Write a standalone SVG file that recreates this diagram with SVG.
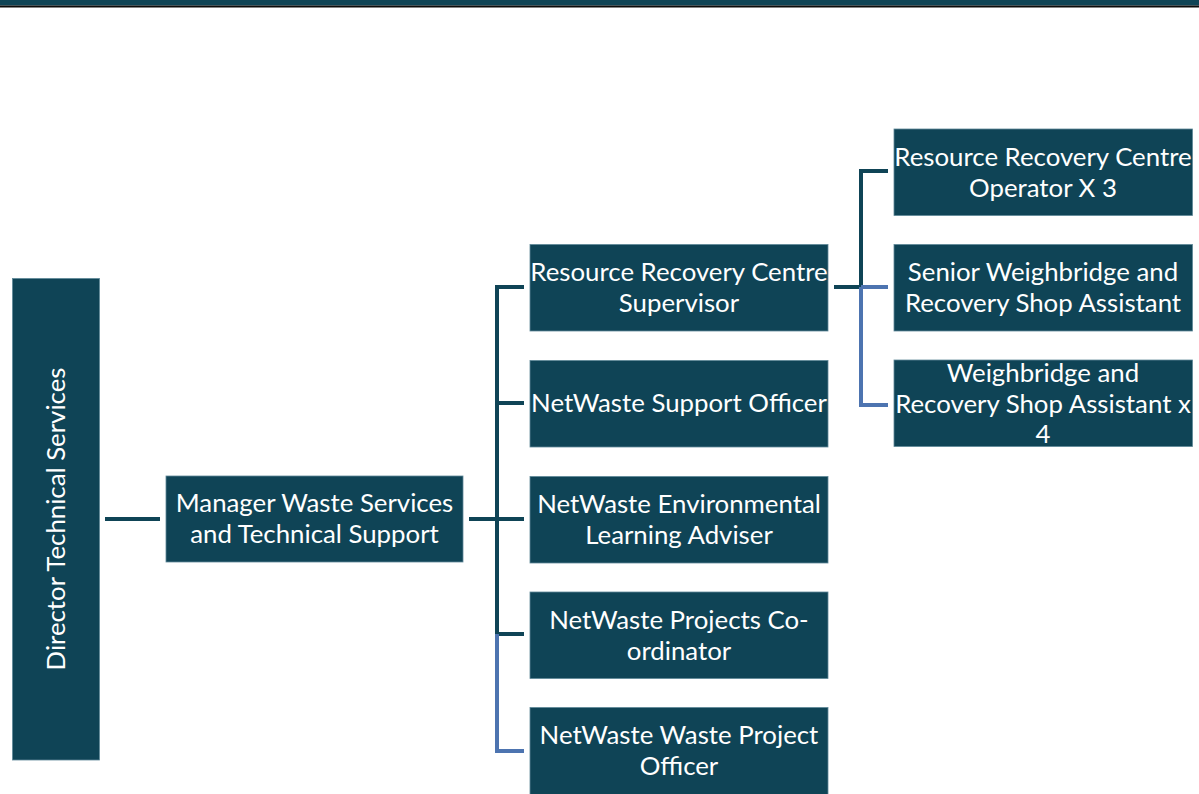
<svg xmlns="http://www.w3.org/2000/svg" width="1199" height="794" viewBox="0 0 1199 794">
  <style>
    .box { fill: #0f4456; stroke: #5f8898; stroke-width: 0.8; }
    .lbl { fill: #ffffff; font-family: Lato, "Liberation Sans", sans-serif; font-size: 25.8px; text-anchor: middle; dominant-baseline: central; }
    .dk { stroke: #0f4456; stroke-width: 4; fill: none; }
    .bl { stroke: #4d74b0; stroke-width: 4; fill: none; }
  </style>
  <rect width="1199" height="794" fill="#ffffff"/>
  <!-- header band -->
  <rect x="0" y="0" width="1199" height="5.5" fill="#0f4456"/>
  <rect x="0" y="5.5" width="1199" height="2" fill="#0b0b0b"/>

  <g id="connectors">
    <line class="dk" x1="105" y1="519" x2="160" y2="519"/>
    <line class="dk" x1="469" y1="519" x2="497" y2="519"/>
    <path class="dk" d="M524 287 H497 V634 H524"/>
    <line class="dk" x1="497" y1="403" x2="524" y2="403"/>
    <line class="dk" x1="497" y1="519" x2="524" y2="519"/>
    <path class="bl" d="M497 634 V751 H524"/>
    <line class="dk" x1="834" y1="287" x2="861" y2="287"/>
    <path class="dk" d="M861 287 V171 H888"/>
    <path class="bl" d="M861 287 H888 M861 287 V405 H888"/>
  </g>

  <g id="director">
    <rect class="box" x="12.5" y="278.5" width="87" height="481.5"/>
    <text class="lbl" transform="translate(55 519) rotate(-90)">Director Technical Services</text>
  </g>
  <g id="manager">
    <rect class="box" x="166" y="476" width="297" height="86"/>
    <text class="lbl" x="314.5" y="502">Manager Waste Services</text>
    <text class="lbl" x="314.5" y="533">and Technical Support</text>
  </g>
  <g id="rrc-supervisor">
    <rect class="box" x="530" y="244.5" width="298" height="86.5"/>
    <text class="lbl" x="679" y="270.5">Resource Recovery Centre</text>
    <text class="lbl" x="679" y="301.5">Supervisor</text>
  </g>
  <g id="support-officer">
    <rect class="box" x="530" y="360.5" width="298" height="86.5"/>
    <text class="lbl" x="679" y="402">NetWaste Support Officer</text>
  </g>
  <g id="learning-adviser">
    <rect class="box" x="530" y="476.5" width="298" height="86.5"/>
    <text class="lbl" x="679" y="502.5">NetWaste Environmental</text>
    <text class="lbl" x="679" y="533.5">Learning Adviser</text>
  </g>
  <g id="projects-coordinator">
    <rect class="box" x="530" y="592" width="298" height="86.5"/>
    <text class="lbl" x="679" y="618.5">NetWaste Projects Co-</text>
    <text class="lbl" x="679" y="649.5">ordinator</text>
  </g>
  <g id="project-officer">
    <rect class="box" x="530" y="707.5" width="298" height="90"/>
    <text class="lbl" x="679" y="734">NetWaste Waste Project</text>
    <text class="lbl" x="679" y="765">Officer</text>
  </g>
  <g id="rrc-operator">
    <rect class="box" x="894" y="129" width="298.5" height="86.5"/>
    <text class="lbl" x="1043" y="155.5">Resource Recovery Centre</text>
    <text class="lbl" x="1043" y="186.5">Operator X 3</text>
  </g>
  <g id="senior-weighbridge">
    <rect class="box" x="894" y="244.5" width="298.5" height="86.5"/>
    <text class="lbl" x="1043" y="270.5">Senior Weighbridge and</text>
    <text class="lbl" x="1043" y="301.5">Recovery Shop Assistant</text>
  </g>
  <g id="weighbridge-assistant">
    <rect class="box" x="894" y="360" width="298.5" height="86.5"/>
    <text class="lbl" x="1043" y="371.5">Weighbridge and</text>
    <text class="lbl" x="1043" y="402.5">Recovery Shop Assistant x</text>
    <text class="lbl" x="1043" y="433">4</text>
  </g>
</svg>
